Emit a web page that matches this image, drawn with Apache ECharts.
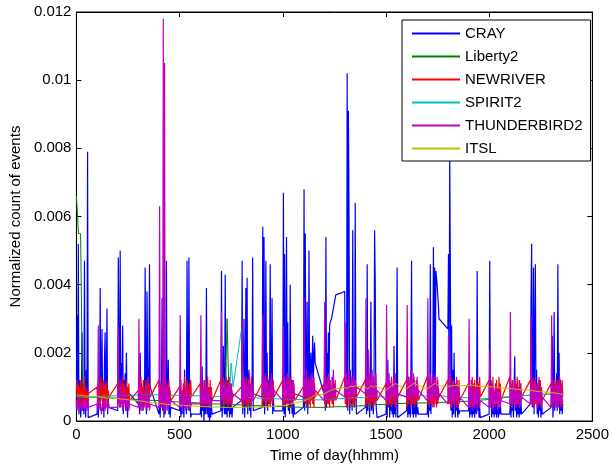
<!DOCTYPE html>
<html><head><meta charset="utf-8">
<script src="https://cdn.jsdelivr.net/npm/echarts@6/dist/echarts.min.js"></script>
<style>html,body{margin:0;padding:0;background:#fff}#c{width:612px;height:468px}</style>
</head><body><div id="c"></div>
<script>
// ---- data ----
const seriesNames = ['CRAY', 'Liberty2', 'NEWRIVER', 'SPIRIT2', 'THUNDERBIRD2', 'ITSL'];
const xTicks = [0, 500, 1000, 1500, 2000, 2500];
const yTicks = [0, 0.002, 0.004, 0.006, 0.008, 0.01, 0.012];
const hours = [0,1,2,3,4,5,6,7,8,9,10,11,12,13,14,15,16,17,18,19,20,21,22,23];
const denseMinutes = [0,3,6,9,12,15,18,21,24,27,30,33,36,39,42,45,48,51,54,57];
const sparseMinutes = [0,10,20,30,40,50,59];

const cray = [
[0.0004,0.0031,0.0006,0.0052,0.0002,0.0012,0.0005,0.0001,0.0008,0.0026,0.0003,0.0010,0.0002,0.0047,0.0006,0.0001,0.0015,0.0004,0.0079,0.0001],
[0.0002,0.0008,0.0001,0.0012,0.0004,0.0039,0.0006,0.0015,0.0027,0.0003,0.0009,0.0001,0.0018,0.0026,0.0005,0.0011,0.0033,0.0002,0.0007,0.0004],
[0.0003,0.0048,0.0006,0.0010,0.0050,0.0004,0.0017,0.0009,0.0028,0.0002,0.0012,0.0005,0.0014,0.0003,0.0020,0.0006,0.0001,0.0009,0.0004,0.0008],
[0.0005,0.0013,0.0002,0.0020,0.0007,0.0011,0.0003,0.0009,0.0004,0.0012,0.0006,0.0045,0.0009,0.0002,0.0038,0.0016,0.0005,0.0010,0.0046,0.0010],
[0.0002,0.0008,0.0001,0.0011,0.0004,0.0036,0.0003,0.0012,0.0001,0.0007,0.0002,0.0009,0.0047,0.0003,0.0006,0.0018,0.0002,0.0010,0.0001,0.0004],
[0.0003,0.0010,0.0001,0.0007,0.0002,0.0009,0.0004,0.0001,0.0015,0.0004,0.0008,0.0002,0.0047,0.0006,0.0003,0.0048,0.0012,0.0005,0.0001,0.0002],
[0.0002,0.0005,0.0001,0.0016,0.0003,0.0008,0.0000,0.0006,0.0002,0.0004,0.0039,0.0002,0.0006,0.0001,0.0009,0.0000,0.0004,0.0001,0.0005,0.0002],
[0.0003,0.0044,0.0001,0.0007,0.0022,0.0004,0.0002,0.0043,0.0002,0.0008,0.0001,0.0012,0.0003,0.0006,0.0001,0.0009,0.0002,0.0005,0.0001,0.0004],
[0.0006,0.0047,0.0002,0.0010,0.0030,0.0001,0.0006,0.0039,0.0004,0.0042,0.0002,0.0009,0.0015,0.0003,0.0007,0.0001,0.0011,0.0006,0.0048,0.0003],
[0.0004,0.0057,0.0004,0.0054,0.0002,0.0009,0.0047,0.0009,0.0020,0.0003,0.0012,0.0005,0.0008,0.0046,0.0005,0.0010,0.0036,0.0002,0.0008,0.0003],
[0.0003,0.0067,0.0002,0.0049,0.0001,0.0010,0.0054,0.0006,0.0029,0.0003,0.0008,0.0002,0.0040,0.0004,0.0012,0.0002,0.0007,0.0001,0.0005,0.0002],
[0.0004,0.0068,0.0003,0.0055,0.0008,0.0012,0.0035,0.0002,0.0009,0.0050,0.0006,0.0014,0.0020,0.0009,0.0016,0.0025,0.0012,0.0019,0.0023,0.0017],
[0.0008,0.0017,0.0003,0.0054,0.0004,0.0020,0.0012,0.0026,0.0010,0.0028,0.0029,0.0029,0.0030,0.0031,0.0032,0.0033,0.0034,0.0035,0.0036,0.0037],
[0.0038,0.0008,0.0015,0.0004,0.0102,0.0003,0.0091,0.0060,0.0002,0.0015,0.0005,0.0010,0.0003,0.0056,0.0006,0.0012,0.0004,0.0064,0.0010,0.0002],
[0.0004,0.0012,0.0002,0.0046,0.0003,0.0020,0.0008,0.0001,0.0010,0.0035,0.0003,0.0012,0.0005,0.0002,0.0009,0.0056,0.0041,0.0006,0.0003,0.0001],
[0.0002,0.0009,0.0001,0.0018,0.0004,0.0012,0.0001,0.0007,0.0003,0.0010,0.0002,0.0006,0.0001,0.0022,0.0002,0.0008,0.0001,0.0011,0.0045,0.0001],
[0.0003,0.0010,0.0001,0.0007,0.0002,0.0008,0.0001,0.0014,0.0047,0.0002,0.0006,0.0001,0.0009,0.0002,0.0005,0.0001,0.0008,0.0002,0.0004,0.0002],
[0.0002,0.0008,0.0001,0.0010,0.0003,0.0046,0.0002,0.0009,0.0006,0.0012,0.0051,0.0004,0.0045,0.0012,0.0044,0.0042,0.0040,0.0037,0.0034,0.0030],
[0.0027,0.0049,0.0006,0.0079,0.0046,0.0003,0.0028,0.0001,0.0015,0.0002,0.0020,0.0006,0.0001,0.0009,0.0003,0.0006,0.0001,0.0004,0.0002,0.0003],
[0.0003,0.0006,0.0001,0.0009,0.0002,0.0005,0.0001,0.0007,0.0002,0.0004,0.0001,0.0008,0.0003,0.0002,0.0044,0.0003,0.0007,0.0001,0.0004,0.0001],
[0.0002,0.0047,0.0004,0.0012,0.0001,0.0006,0.0002,0.0009,0.0001,0.0005,0.0002,0.0010,0.0001,0.0003,0.0007,0.0001,0.0004,0.0002,0.0006,0.0002],
[0.0002,0.0006,0.0001,0.0008,0.0003,0.0005,0.0001,0.0009,0.0019,0.0003,0.0008,0.0001,0.0005,0.0002,0.0009,0.0001,0.0004,0.0002,0.0006,0.0002],
[0.0005,0.0036,0.0052,0.0004,0.0010,0.0045,0.0002,0.0025,0.0046,0.0005,0.0015,0.0002,0.0008,0.0001,0.0012,0.0003,0.0007,0.0001,0.0009,0.0002],
[0.0004,0.0008,0.0025,0.0001,0.0006,0.0032,0.0003,0.0010,0.0006,0.0014,0.0003,0.0046,0.0008,0.0020,0.0002,0.0012,0.0003,0.0007,0.0002,0.0005]
];

const liberty2 = [
[0.0066,0.0055,0.0055,0.0007,0.0007,0.0007,0.0007],
[0.00070,0.00070,0.00069,0.00069,0.00068,0.00068,0.00067],
[0.00067,0.00066,0.00066,0.00065,0.00065,0.00064,0.00064],
[0.00063,0.00063,0.00062,0.00062,0.00061,0.00061,0.00060],
[0.00060,0.00059,0.00059,0.00058,0.00058,0.00057,0.00057],
[0.00056,0.00056,0.00055,0.00055,0.00054,0.00054,0.00053],
[0.00053,0.00052,0.00052,0.00051,0.00051,0.00050,0.00050],
[0.00050,0.00049,0.00049,0.0030,0.00049,0.00048,0.00048],
[0.00047,0.00047,0.00046,0.00046,0.00046,0.00045,0.00045],
[0.00045,0.00044,0.00044,0.00044,0.00043,0.00043,0.00043],
[0.00042,0.00042,0.00042,0.00041,0.00041,0.00041,0.00041],
[0.00040,0.00040,0.00040,0.00040,0.00040,0.00040,0.00040],
[0.00040,0.00040,0.00041,0.00041,0.00041,0.00042,0.00042],
[0.00042,0.00043,0.00043,0.00043,0.00044,0.00044,0.00045],
[0.00045,0.00046,0.00046,0.00047,0.00047,0.00048,0.00048],
[0.00049,0.00049,0.00050,0.00050,0.00051,0.00051,0.00051],
[0.00052,0.00052,0.00052,0.00053,0.00053,0.00053,0.00053],
[0.00053,0.00054,0.00054,0.00054,0.00054,0.00055,0.00055],
[0.00055,0.00055,0.00056,0.00056,0.00056,0.00057,0.00057],
[0.00058,0.00058,0.00059,0.00060,0.00060,0.00061,0.00062],
[0.00063,0.00064,0.00065,0.00066,0.00067,0.00068,0.00069],
[0.00070,0.00071,0.00072,0.00073,0.00074,0.00074,0.00075],
[0.00076,0.00076,0.00077,0.00077,0.00078,0.00078,0.00079],
[0.00079,0.00080,0.00080,0.00081,0.00081,0.00082,0.00082]
];

const newriver = [
[0.0008,0.0012,0.0005,0.0011,0.0006,0.0010,0.0004,0.0012,0.0007,0.0009,0.0005,0.0011,0.0006,0.0013,0.0005,0.0010,0.0004,0.0009,0.0006,0.0008],
[0.0010,0.0005,0.0012,0.0006,0.0011,0.0004,0.0013,0.0007,0.0009,0.0005,0.0012,0.0006,0.0010,0.0004,0.0011,0.0007,0.0012,0.0005,0.0009,0.0007],
[0.0011,0.0006,0.0009,0.0004,0.0012,0.0005,0.0010,0.0006,0.0013,0.0004,0.0011,0.0005,0.0009,0.0006,0.0012,0.0004,0.0010,0.0006,0.0011,0.0006],
[0.0009,0.0004,0.0011,0.0005,0.0013,0.0006,0.0010,0.0004,0.0012,0.0005,0.0009,0.0007,0.0012,0.0004,0.0010,0.0005,0.0013,0.0006,0.0011,0.0007],
[0.0012,0.0005,0.0010,0.0004,0.0011,0.0006,0.0013,0.0005,0.0009,0.0004,0.0012,0.0006,0.0010,0.0005,0.0011,0.0004,0.0012,0.0006,0.0009,0.0006],
[0.0010,0.0006,0.0012,0.0004,0.0009,0.0005,0.0011,0.0006,0.0013,0.0005,0.0010,0.0004,0.0012,0.0006,0.0009,0.0005,0.0011,0.0004,0.0012,0.0007],
[0.0011,0.0004,0.0013,0.0006,0.0010,0.0005,0.0012,0.0004,0.0011,0.0006,0.0009,0.0005,0.0013,0.0004,0.0010,0.0006,0.0012,0.0005,0.0010,0.0006],
[0.0012,0.0006,0.0010,0.0005,0.0013,0.0004,0.0011,0.0006,0.0009,0.0005,0.0012,0.0004,0.0010,0.0006,0.0013,0.0005,0.0011,0.0004,0.0009,0.0007],
[0.0010,0.0005,0.0012,0.0004,0.0011,0.0006,0.0009,0.0005,0.0013,0.0004,0.0010,0.0006,0.0012,0.0005,0.0011,0.0004,0.0013,0.0006,0.0010,0.0006],
[0.0011,0.0004,0.0010,0.0006,0.0012,0.0005,0.0013,0.0004,0.0010,0.0006,0.0011,0.0005,0.0009,0.0004,0.0012,0.0006,0.0010,0.0005,0.0012,0.0007],
[0.0012,0.0005,0.0011,0.0004,0.0009,0.0006,0.0012,0.0005,0.0010,0.0004,0.0013,0.0006,0.0011,0.0005,0.0009,0.0004,0.0012,0.0006,0.0011,0.0006],
[0.0010,0.0006,0.0013,0.0005,0.0011,0.0004,0.0010,0.0006,0.0012,0.0005,0.0009,0.0004,0.0013,0.0006,0.0010,0.0005,0.0012,0.0004,0.0011,0.0007],
[0.0011,0.0005,0.0012,0.0004,0.0010,0.0006,0.0013,0.0005,0.0011,0.0004,0.0012,0.0006,0.0010,0.0005,0.0013,0.0004,0.0009,0.0006,0.0012,0.0006],
[0.0013,0.0005,0.0011,0.0004,0.0012,0.0006,0.0014,0.0005,0.0010,0.0004,0.0011,0.0006,0.0013,0.0005,0.0012,0.0004,0.0010,0.0006,0.0011,0.0007],
[0.0012,0.0004,0.0010,0.0005,0.0013,0.0006,0.0011,0.0004,0.0012,0.0005,0.0014,0.0006,0.0010,0.0004,0.0011,0.0005,0.0013,0.0006,0.0009,0.0006],
[0.0011,0.0005,0.0013,0.0004,0.0010,0.0006,0.0012,0.0005,0.0011,0.0004,0.0010,0.0005,0.0012,0.0006,0.0013,0.0004,0.0011,0.0005,0.0010,0.0007],
[0.0012,0.0004,0.0011,0.0005,0.0013,0.0006,0.0010,0.0004,0.0012,0.0005,0.0011,0.0006,0.0013,0.0004,0.0010,0.0005,0.0012,0.0006,0.0011,0.0006],
[0.0013,0.0005,0.0010,0.0004,0.0012,0.0006,0.0011,0.0005,0.0013,0.0004,0.0010,0.0005,0.0012,0.0006,0.0011,0.0004,0.0013,0.0005,0.0010,0.0007],
[0.0012,0.0006,0.0011,0.0005,0.0013,0.0004,0.0010,0.0006,0.0012,0.0005,0.0009,0.0004,0.0011,0.0006,0.0013,0.0005,0.0010,0.0004,0.0012,0.0006],
[0.0011,0.0005,0.0012,0.0004,0.0010,0.0006,0.0013,0.0005,0.0011,0.0004,0.0012,0.0006,0.0010,0.0005,0.0012,0.0004,0.0011,0.0006,0.0013,0.0007],
[0.0012,0.0004,0.0010,0.0006,0.0011,0.0005,0.0013,0.0004,0.0009,0.0006,0.0011,0.0005,0.0012,0.0004,0.0010,0.0006,0.0013,0.0005,0.0011,0.0006],
[0.0013,0.0005,0.0011,0.0004,0.0012,0.0006,0.0010,0.0005,0.0012,0.0004,0.0011,0.0006,0.0013,0.0005,0.0010,0.0004,0.0012,0.0006,0.0011,0.0007],
[0.0012,0.0006,0.0010,0.0005,0.0013,0.0004,0.0011,0.0006,0.0012,0.0005,0.0010,0.0004,0.0011,0.0006,0.0013,0.0005,0.0012,0.0004,0.0010,0.0006],
[0.0011,0.0005,0.0013,0.0004,0.0010,0.0006,0.0012,0.0005,0.0011,0.0004,0.0012,0.0005,0.0010,0.0006,0.0013,0.0004,0.0011,0.0005,0.0012,0.0007]
];

const spirit2 = [
[0.00072,0.00071,0.00071,0.00070,0.00070,0.00070,0.00071],
[0.00071,0.00072,0.00072,0.00073,0.00073,0.00073,0.00074],
[0.00074,0.00074,0.00075,0.00075,0.00075,0.00076,0.00076],
[0.00076,0.00076,0.00077,0.00077,0.00077,0.00077,0.00077],
[0.00077,0.00077,0.00076,0.00076,0.00076,0.00076,0.00075],
[0.00075,0.00075,0.00075,0.00074,0.00074,0.00074,0.00074],
[0.00074,0.00073,0.00073,0.00073,0.00073,0.00072,0.00072],
[0.00072,0.00080,0.00072,0.00090,0.00072,0.0017,0.0010],
[0.0027,0.00080,0.00070,0.00069,0.00069,0.00068,0.00068],
[0.00067,0.00067,0.00066,0.00066,0.00066,0.00065,0.00065],
[0.00065,0.00064,0.00064,0.00064,0.00063,0.00063,0.00063],
[0.00063,0.00063,0.00062,0.00062,0.00062,0.00062,0.00062],
[0.00062,0.00063,0.00063,0.00064,0.00064,0.00065,0.00065],
[0.00066,0.00066,0.00067,0.00068,0.00068,0.00069,0.00069],
[0.00068,0.00070,0.00072,0.00074,0.00075,0.00073,0.00071],
[0.00070,0.00072,0.00075,0.00078,0.00080,0.00077,0.00074],
[0.00072,0.00074,0.00077,0.00079,0.00081,0.00078,0.00075],
[0.00072,0.00074,0.00076,0.00078,0.00079,0.00076,0.00073],
[0.00071,0.00072,0.00073,0.00072,0.00071,0.00070,0.00069],
[0.00068,0.00067,0.00066,0.00066,0.00065,0.00065,0.00065],
[0.00066,0.00067,0.00068,0.00069,0.00070,0.00070,0.00071],
[0.00071,0.00072,0.00073,0.00073,0.00074,0.00074,0.00075],
[0.00075,0.00076,0.00076,0.00077,0.00077,0.00077,0.00078],
[0.00078,0.00078,0.00079,0.00079,0.00079,0.00080,0.00080]
];

const thunderbird2 = [
[0.0006,0.0003,0.0005,0.0004,0.0007,0.0003,0.0005,0.0004,0.0006,0.0003,0.0005,0.0004,0.0007,0.0003,0.0006,0.0004,0.0005,0.0003,0.0006,0.0004],
[0.0005,0.0003,0.0028,0.0004,0.0006,0.0003,0.0005,0.0002,0.0004,0.0003,0.0006,0.0004,0.0005,0.0003,0.0007,0.0004,0.0005,0.0003,0.0006,0.0004],
[0.0004,0.0028,0.0005,0.0009,0.0004,0.0011,0.0005,0.0008,0.0003,0.0007,0.0004,0.0010,0.0005,0.0006,0.0003,0.0008,0.0004,0.0006,0.0003,0.0005],
[0.0004,0.0030,0.0004,0.0008,0.0003,0.0010,0.0005,0.0007,0.0003,0.0009,0.0004,0.0006,0.0005,0.0011,0.0003,0.0007,0.0004,0.0009,0.0003,0.0005],
[0.0004,0.0063,0.0004,0.0008,0.0005,0.0010,0.0004,0.0118,0.0002,0.0105,0.0003,0.0012,0.0005,0.0009,0.0004,0.0011,0.0005,0.0008,0.0004,0.0006],
[0.0004,0.0031,0.0004,0.0009,0.0003,0.0008,0.0005,0.0011,0.0004,0.0007,0.0003,0.0010,0.0004,0.0006,0.0005,0.0009,0.0003,0.0007,0.0004,0.0005],
[0.0005,0.0031,0.0005,0.0010,0.0004,0.0008,0.0006,0.0012,0.0005,0.0009,0.0004,0.0011,0.0005,0.0007,0.0006,0.0010,0.0004,0.0008,0.0005,0.0006],
[0.0006,0.0032,0.0006,0.0011,0.0005,0.0012,0.0007,0.0010,0.0005,0.0013,0.0006,0.0009,0.0005,0.0012,0.0007,0.0010,0.0006,0.0011,0.0005,0.0008],
[0.0006,0.0030,0.0006,0.0012,0.0005,0.0013,0.0007,0.0011,0.0006,0.0010,0.0005,0.0012,0.0006,0.0014,0.0007,0.0010,0.0005,0.0011,0.0006,0.0008],
[0.0007,0.0031,0.0007,0.0012,0.0006,0.0014,0.0008,0.0011,0.0006,0.0013,0.0007,0.0010,0.0006,0.0012,0.0008,0.0014,0.0006,0.0011,0.0007,0.0009],
[0.0006,0.0028,0.0006,0.0013,0.0007,0.0011,0.0005,0.0014,0.0008,0.0010,0.0006,0.0012,0.0007,0.0013,0.0005,0.0011,0.0008,0.0012,0.0006,0.0008],
[0.0007,0.0036,0.0007,0.0012,0.0006,0.0015,0.0008,0.0011,0.0006,0.0013,0.0007,0.0010,0.0008,0.0014,0.0006,0.0012,0.0007,0.0013,0.0008,0.0009],
[0.0006,0.0035,0.0006,0.0013,0.0007,0.0011,0.0005,0.0014,0.0008,0.0012,0.0006,0.0010,0.0007,0.0013,0.0006,0.0015,0.0008,0.0011,0.0007,0.0009],
[0.0007,0.0029,0.0007,0.0014,0.0006,0.0012,0.0008,0.0015,0.0007,0.0011,0.0006,0.0013,0.0008,0.0012,0.0007,0.0014,0.0006,0.0012,0.0008,0.0010],
[0.0008,0.0036,0.0008,0.0013,0.0007,0.0021,0.0006,0.0014,0.0008,0.0012,0.0007,0.0015,0.0006,0.0013,0.0008,0.0011,0.0007,0.0014,0.0006,0.0009],
[0.0006,0.0034,0.0006,0.0012,0.0007,0.0014,0.0005,0.0011,0.0008,0.0013,0.0006,0.0010,0.0007,0.0012,0.0005,0.0014,0.0008,0.0011,0.0006,0.0008],
[0.0007,0.0034,0.0007,0.0013,0.0006,0.0011,0.0008,0.0015,0.0006,0.0012,0.0007,0.0014,0.0005,0.0012,0.0008,0.0010,0.0006,0.0013,0.0007,0.0009],
[0.0006,0.0036,0.0006,0.0012,0.0007,0.0014,0.0005,0.0011,0.0008,0.0013,0.0006,0.0012,0.0007,0.0014,0.0005,0.0011,0.0008,0.0012,0.0006,0.0008],
[0.0005,0.0025,0.0005,0.0011,0.0006,0.0013,0.0004,0.0010,0.0007,0.0012,0.0005,0.0009,0.0006,0.0011,0.0004,0.0012,0.0007,0.0010,0.0005,0.0007],
[0.0004,0.0030,0.0004,0.0010,0.0005,0.0012,0.0003,0.0009,0.0006,0.0011,0.0004,0.0008,0.0005,0.0011,0.0003,0.0010,0.0006,0.0009,0.0004,0.0006],
[0.0004,0.0021,0.0004,0.0009,0.0005,0.0011,0.0003,0.0010,0.0006,0.0008,0.0004,0.0011,0.0005,0.0009,0.0003,0.0010,0.0006,0.0008,0.0004,0.0006],
[0.0005,0.0032,0.0005,0.0010,0.0004,0.0012,0.0006,0.0009,0.0005,0.0011,0.0004,0.0010,0.0005,0.0012,0.0006,0.0009,0.0004,0.0011,0.0005,0.0007],
[0.0005,0.0031,0.0005,0.0011,0.0006,0.0009,0.0004,0.0012,0.0005,0.0010,0.0006,0.0011,0.0004,0.0010,0.0005,0.0012,0.0006,0.0009,0.0004,0.0007],
[0.0004,0.0031,0.0004,0.0010,0.0005,0.0012,0.0006,0.0009,0.0004,0.0011,0.0005,0.0010,0.0004,0.0012,0.0006,0.0009,0.0005,0.0011,0.0004,0.0006]
];

const itsl = [
[0.00077,0.00076,0.00076,0.00075,0.00074,0.00073,0.00072],
[0.00072,0.00071,0.00070,0.00069,0.00068,0.00067,0.00067],
[0.00066,0.00065,0.00064,0.00064,0.00063,0.00062,0.00061],
[0.00060,0.00059,0.00058,0.00057,0.00056,0.00055,0.00054],
[0.00052,0.00051,0.00050,0.00050,0.00049,0.00048,0.00048],
[0.00047,0.00046,0.00046,0.00045,0.00045,0.00044,0.00044],
[0.00043,0.00043,0.00042,0.00042,0.00042,0.00041,0.00041],
[0.00041,0.00040,0.00040,0.00040,0.00040,0.00040,0.00040],
[0.00040,0.00040,0.00040,0.00041,0.00041,0.00041,0.00041],
[0.00041,0.00042,0.00042,0.00042,0.00043,0.00043,0.00044],
[0.00045,0.00046,0.00047,0.00049,0.00050,0.00052,0.00054],
[0.00058,0.00061,0.00064,0.00067,0.00070,0.00073,0.00076],
[0.00080,0.00083,0.00086,0.00089,0.00092,0.00094,0.00096],
[0.00098,0.00096,0.00099,0.00102,0.00100,0.00103,0.00101],
[0.00100,0.00095,0.00098,0.00104,0.00099,0.00102,0.00100],
[0.00090,0.00095,0.00100,0.00105,0.00108,0.00110,0.00104],
[0.00095,0.00100,0.00104,0.00108,0.00111,0.00106,0.00101],
[0.00094,0.00099,0.00103,0.00107,0.00110,0.00105,0.00102],
[0.00100,0.00102,0.00104,0.00103,0.00105,0.00104,0.00103],
[0.00104,0.00106,0.00105,0.00104,0.00103,0.00102,0.00102],
[0.00101,0.00100,0.00099,0.00099,0.00098,0.00097,0.00097],
[0.00096,0.00095,0.00094,0.00093,0.00093,0.00092,0.00091],
[0.00090,0.00089,0.00088,0.00087,0.00086,0.00086,0.00085],
[0.00084,0.00083,0.00082,0.00081,0.00080,0.00079,0.00078]
];

const seriesColors = ['#0000FF', '#008000', '#FF0000', '#00BFBF', '#BF00BF', '#BFBF00'];
const seriesWidths = [1.2, 1, 1.2, 1, 1.2, 1];

// ---- build ----
function toPoints(rows, minutes) {
  const pts = [];
  rows.forEach((row, h) => row.forEach((v, i) => pts.push([hours[h] * 100 + minutes[i], v])));
  return pts;
}
const seriesData = [
  toPoints(cray, denseMinutes),
  toPoints(liberty2, sparseMinutes),
  toPoints(newriver, denseMinutes),
  toPoints(spirit2, sparseMinutes),
  toPoints(thunderbird2, denseMinutes),
  toPoints(itsl, sparseMinutes)
];

const FONT = "'Liberation Sans', Arial, sans-serif";
const txt = { fontFamily: FONT, fontSize: 15, color: '#000' };
const xMin = xTicks[0], xMax = xTicks[xTicks.length - 1], xInt = xTicks[1] - xTicks[0];
const yMin = yTicks[0], yMax = yTicks[yTicks.length - 1], yInt = yTicks[1] - yTicks[0];

const axisCommon = {
  type: 'value',
  splitLine: { show: false },
  axisLine: { show: true, onZero: false, lineStyle: { color: '#000', width: 1 } },
  axisTick: { show: true, inside: true, length: 5, lineStyle: { color: '#000' } }
};

const chart = echarts.init(document.getElementById('c'), null, { renderer: 'canvas' });
chart.setOption({
  animation: false,
  backgroundColor: '#fff',
  grid: { left: 75, right: 15, top: 12, bottom: 47, show: true, borderColor: '#000', borderWidth: 1, backgroundColor: '#fff' },
  legend: {
    data: seriesNames,
    orient: 'vertical',
    left: 402, top: 20,
    backgroundColor: '#fff',
    borderColor: '#000', borderWidth: 1,
    padding: [6, 8, 5, 9],
    itemWidth: 48, itemHeight: 14, itemGap: 8,
    itemStyle: { opacity: 0 },
    textStyle: Object.assign({ lineHeight: 14 }, txt)
  },
  xAxis: [
    Object.assign({}, axisCommon, {
      min: xMin, max: xMax, interval: xInt, position: 'bottom',
      axisLabel: Object.assign({ margin: 6, formatter: v => String(v) }, txt),
      name: 'Time of day(hhmm)', nameLocation: 'middle', nameGap: 27, nameTextStyle: txt
    }),
    Object.assign({}, axisCommon, {
      min: xMin, max: xMax, interval: xInt, position: 'top', axisLabel: { show: false }
    })
  ],
  yAxis: [
    Object.assign({}, axisCommon, {
      min: yMin, max: yMax, interval: yInt, position: 'left',
      axisLabel: Object.assign({ margin: 5, formatter: v => String(+v.toFixed(3)) }, txt),
      name: 'Normalized count of events', nameLocation: 'middle', nameGap: 53, nameTextStyle: txt
    }),
    Object.assign({}, axisCommon, {
      min: yMin, max: yMax, interval: yInt, position: 'right', axisLabel: { show: false }
    })
  ],
  series: seriesNames.map((name, i) => ({
    name: name,
    type: 'line',
    data: seriesData[i],
    symbol: 'none',
    showSymbol: false,
    lineStyle: { width: seriesWidths[i], color: seriesColors[i] },
    itemStyle: { color: seriesColors[i] },
    emphasis: { disabled: true }
  }))
});
</script>
</body></html>
